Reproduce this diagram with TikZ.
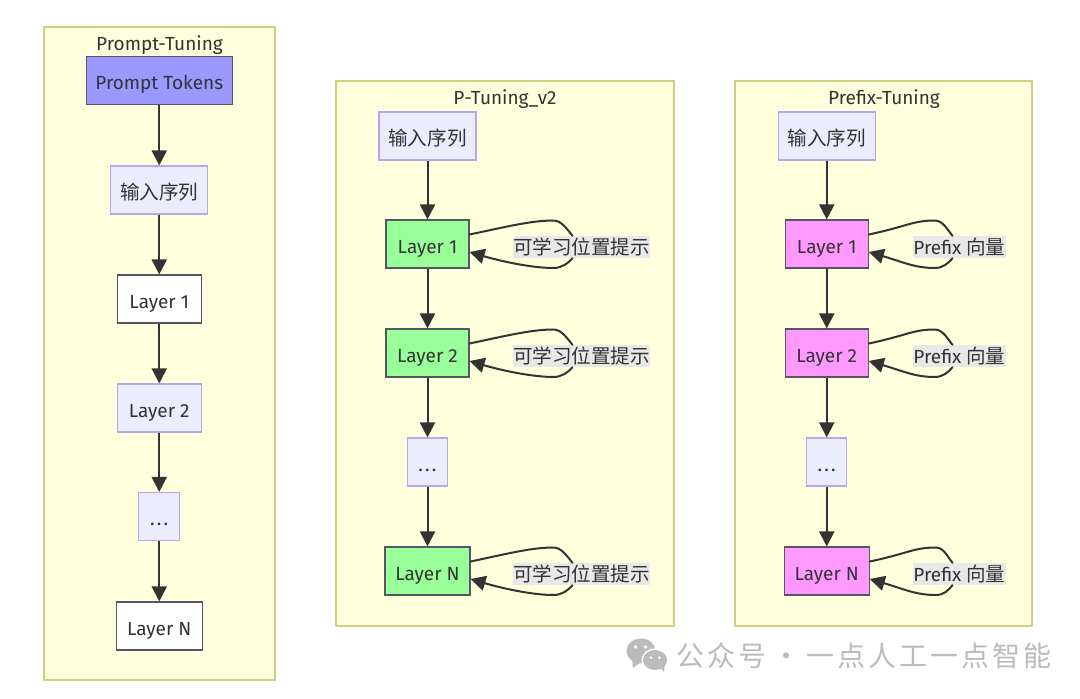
\documentclass[tikz,border=0pt]{standalone}
\usepackage{fontspec}
\setmainfont{Fira Sans}
\newfontfamily\cjk[Scale=1.03]{Noto Sans CJK SC}
\newfontfamily\cjkwm[LetterSpace=10.5]{Noto Sans CJK SC}
\usetikzlibrary{arrows.meta}
\definecolor{ink}{HTML}{333333}
\tikzset{
  x=1pt,y=-1pt,
  txt/.style={text=ink,font=\fontsize{19}{21}\selectfont,inner sep=0pt,align=center},
  titletxt/.style={txt,text height=15pt,text depth=2pt},
  cluster/.style={draw=clusterline,fill=clusterfill,line width=1.4pt,inner sep=0pt,rectangle},
  basebox/.style={txt,rectangle,line width=1.1pt,minimum height=48pt,text height=20pt,text depth=2pt},
  plain/.style={basebox,draw=plainline,fill=plainfill},
  whitebox/.style={basebox,draw=darkline,fill=white},
  tokenbox/.style={basebox,draw=darkline,fill=tokenfill},
  greenbox/.style={basebox,draw=darkline,fill=layergreen},
  pinkbox/.style={basebox,draw=darkline,fill=layerpink},
  looplabel/.style={txt,fill=labelbg,minimum height=22pt,text height=16pt,text depth=2pt},
  flow/.style={draw=ink,line width=2pt,-{Triangle[length=15pt,width=15pt]}},
  loopline/.style={draw=ink,line width=2pt,line cap=round},
  loopflow/.style={loopline,-{Triangle[length=15pt,width=15pt]}},
}
\definecolor{clusterline}{HTML}{CFCF80}
\definecolor{clusterfill}{HTML}{FFFFDE}
\definecolor{plainline}{HTML}{BBA5E8}
\definecolor{plainfill}{HTML}{ECECFF}
\definecolor{darkline}{HTML}{555566}
\definecolor{tokenfill}{HTML}{9999FF}
\definecolor{layergreen}{HTML}{99FF99}
\definecolor{layerpink}{HTML}{FF99FF}
\definecolor{labelbg}{HTML}{E8E8E8}
\definecolor{wmgray}{HTML}{BBBBBB}
\newcommand{\dotsrow}{.\kern2.2pt.\kern2.2pt.}
% #1 layer node, #2 label node, #3 shift of loop ends from the label centre, #4 horizontal reach of loop top
\newcommand{\selfloop}[4]{%
  \draw[loopline] ([yshift=9.5pt]#1.east) .. controls +(38,-8) and +(-22,0) ..
     ([xshift=#4pt,yshift=23.5pt]#1.east) .. controls +(8,0) and +(-5,-6) ..
     ([xshift=#3pt]#2.north);
  \draw[loopflow] ([xshift=#3pt]#2.south) .. controls +(-4,5) and +(8,0) ..
     ([xshift=#4pt,yshift=-24pt]#1.east) .. controls +(-20,0) and +(34,10) ..
     ([yshift=-8pt]#1.east);
}
\begin{document}
\begin{tikzpicture}
\useasboundingbox (0,0) rectangle (1080,699);
\fill[white] (0,0) rectangle (1080,699);
% clusters
\node[cluster,minimum width=231pt,minimum height=653pt] (c1) at (159.5,353.5) {};
\node[cluster,minimum width=338pt,minimum height=545pt] (c2) at (505,353.5) {};
\node[cluster,minimum width=297pt,minimum height=545pt] (c3) at (883.5,353.5) {};
\node[titletxt] (t1) at (159.5,43.5) {Prompt-Tuning};
\node[titletxt] (t2) at (505,97.5) {P-Tuning\_v2};
\node[titletxt] (t3) at (884,97.5) {Prefix-Tuning};
% column 1
\node[tokenbox,minimum width=146pt] (a0) at (159.25,80.5) {Prompt Tokens};
\node[plain,minimum width=97pt] (a1) at (159.25,190) {\cjk 输入序列};
\node[whitebox,minimum width=84pt] (a2) at (159.25,299) {Layer 1};
\node[plain,minimum width=84pt] (a3) at (159.25,408) {Layer 2};
\node[plain,minimum width=41pt] (a4) at (159.25,516.5) {\dotsrow};
\node[whitebox,minimum width=86pt] (a5) at (159.25,626) {Layer N};
\draw[flow] (a0) -- (a1);
\draw[flow] (a1) -- (a2);
\draw[flow] (a2) -- (a3);
\draw[flow] (a3) -- (a4);
\draw[flow] (a4) -- (a5);
% column 2
\node[plain,minimum width=97pt] (b1) at (427.5,136) {\cjk 输入序列};
\node[greenbox,minimum width=83pt] (b2) at (427.5,244) {Layer 1};
\node[greenbox,minimum width=83pt] (b3) at (427.5,353) {Layer 2};
\node[plain,minimum width=40pt] (b4) at (427.5,462) {\dotsrow};
\node[greenbox,minimum width=85pt] (b5) at (427.5,571) {Layer N};
\draw[flow] (b1) -- (b2);
\draw[flow] (b2) -- (b3);
\draw[flow] (b3) -- (b4);
\draw[flow] (b4) -- (b5);
\node[looplabel] (bl2) at (581.5,247) {\cjk 可学习位置提示};
\node[looplabel] (bl3) at (581.5,356) {\cjk 可学习位置提示};
\node[looplabel] (bl5) at (581.5,574) {\cjk 可学习位置提示};
\selfloop{b2}{bl2}{-9}{84}
\selfloop{b3}{bl3}{-9}{84}
\selfloop{b5}{bl5}{-9}{83}
% column 3
\node[plain,minimum width=97pt] (d1) at (826.75,136) {\cjk 输入序列};
\node[pinkbox,minimum width=83pt] (d2) at (826.75,244) {Layer 1};
\node[pinkbox,minimum width=83pt] (d3) at (826.75,353) {Layer 2};
\node[plain,minimum width=40pt] (d4) at (826.75,462) {\dotsrow};
\node[pinkbox,minimum width=85pt] (d5) at (826.75,571) {Layer N};
\draw[flow] (d1) -- (d2);
\draw[flow] (d2) -- (d3);
\draw[flow] (d3) -- (d4);
\draw[flow] (d4) -- (d5);
\node[looplabel] (dl2) at (959.5,247) {Prefix {\cjk 向量}};
\node[looplabel] (dl3) at (959.5,356) {Prefix {\cjk 向量}};
\node[looplabel] (dl5) at (959.5,574) {Prefix {\cjk 向量}};
\selfloop{d2}{dl2}{-7}{66}
\selfloop{d3}{dl3}{-7}{66}
\selfloop{d5}{dl5}{-7}{66}
% watermark
\fill[wmgray] (641,651) ellipse [x radius=14.5pt,y radius=12.5pt];
\fill[wmgray] (632,659) -- (633,668) -- (641,662) -- cycle;
\fill[white] (655,660) ellipse [x radius=13.5pt,y radius=11.5pt];
\fill[wmgray] (655,660) ellipse [x radius=12pt,y radius=10pt];
\fill[wmgray] (660,667) -- (664,672) -- (665,663) -- cycle;
\fill[white] (635.5,647) circle (1.9pt) (645.5,647) circle (1.9pt)
             (651,657.5) circle (1.5pt) (659.5,657.5) circle (1.5pt);
\node[inner sep=0pt,anchor=west,text=wmgray,font=\fontsize{28}{30}\cjkwm] (wm) at (676,655.5) {公众号\kern-3pt{} · \kern-3pt{}一点人工一点智能};
\end{tikzpicture}
\end{document}
